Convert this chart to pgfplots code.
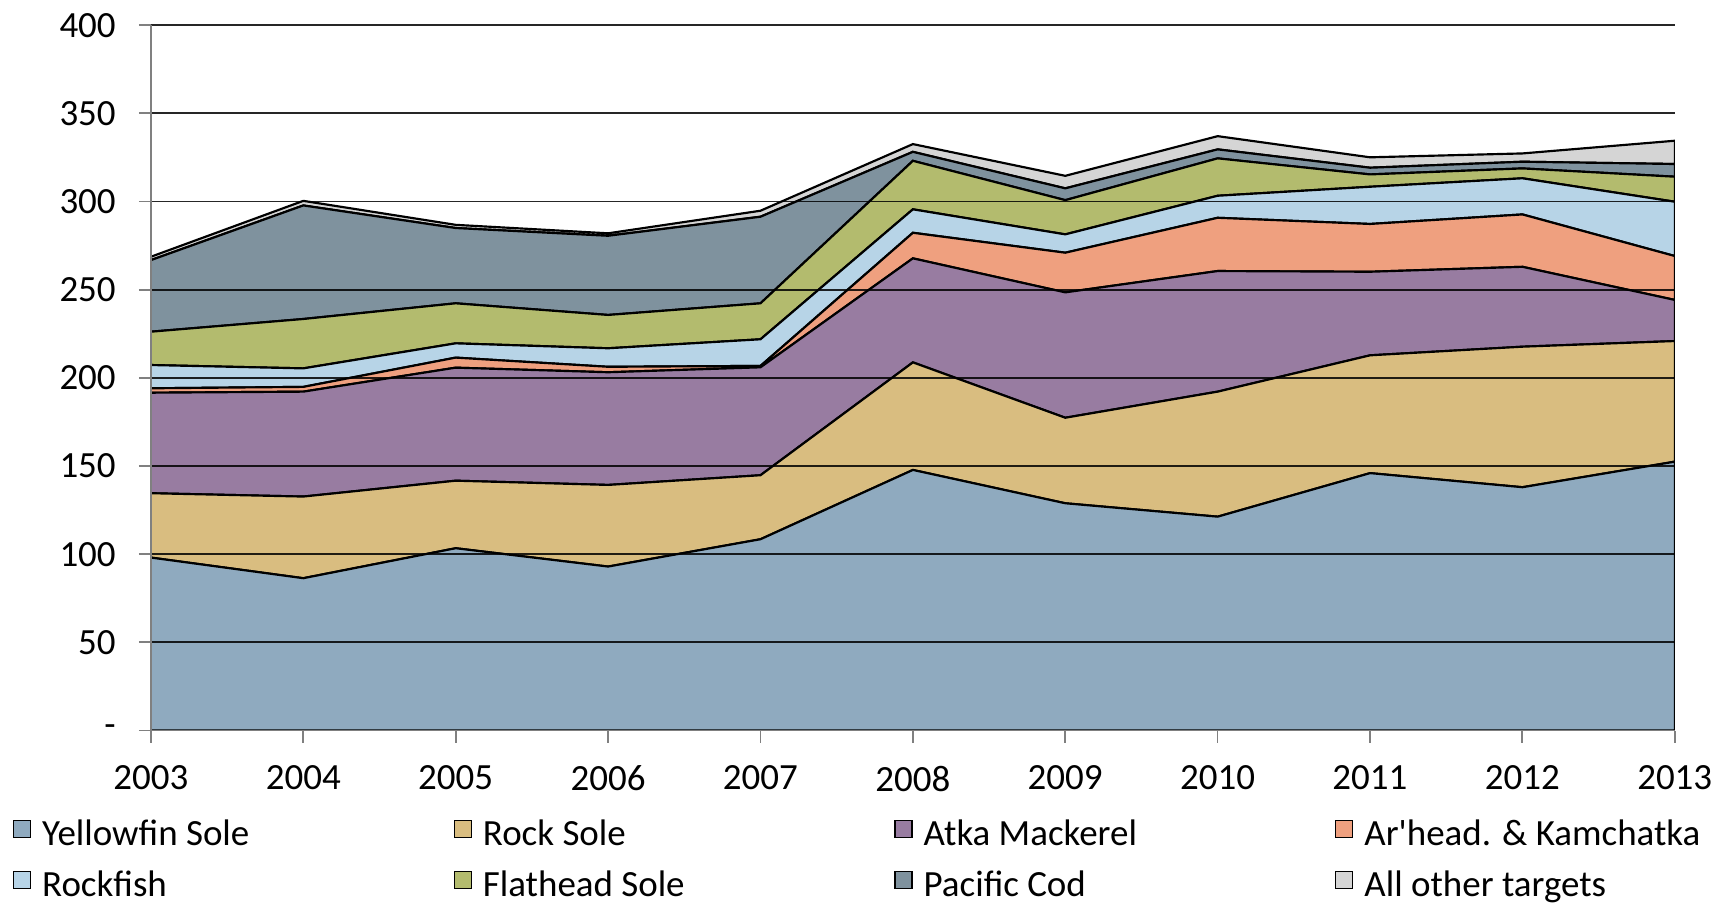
\documentclass[border=0pt]{standalone}
\usepackage{fontspec}
\setmainfont{Carlito}
\usepackage{pgfplots}
\usepackage{pgfplotstable}
\pgfplotsset{compat=1.18}

\definecolor{yfs}{HTML}{8FAABF}
\definecolor{rks}{HTML}{D9BD80}
\definecolor{atk}{HTML}{987CA1}
\definecolor{arh}{HTML}{EFA07F}
\definecolor{rkf}{HTML}{B7D4E7}
\definecolor{fhs}{HTML}{B3BB6E}
\definecolor{pcd}{HTML}{7F929E}
\definecolor{oth}{HTML}{D5D5D5}

% catch by target (stacked)
\pgfplotstableread{
year  Y      R     A     Ar    Rf    F     C     O
2003  98.1   36.5  57.0  2.5   13.2  18.9  40.6  1.9
2004  86.4   46.3  59.5  2.7   10.5  28.0  64.4  2.6
2005  103.4  38.3  64.1  5.7   8.1   22.7  42.7  1.8
2006  93.0   46.3  63.9  3.1   10.5  18.9  44.9  1.4
2007  108.5  36.3  61.2  0.8   15.1  20.4  49.1  3.4
2008  147.8  61.0  59.0  14.5  13.3  27.5  5.1   4.4
2009  128.9  48.5  71.1  22.5  10.4  19.4  6.7   7.1
2010  121.3  70.9  68.4  30.2  12.5  21.2  5.1   7.5
2011  146.0  66.8  47.4  27.1  21.1  7.0   3.8   5.9
2012  138.0  79.7  45.3  29.7  20.5  5.6   3.8   4.7
2013  152.5  68.4  23.3  24.9  30.8  14.2  7.2   13.2
}\catch

\newcommand{\lbl}[1]{\makebox[130pt][l]{\strut #1}}

\begin{document}
\begin{tikzpicture}
\useasboundingbox (-49pt,-55.9pt) rectangle (511.4pt,237.2pt);
\begin{axis}[
    scale only axis,
    width=494.8pt, height=229pt,
    at={(0,0)}, anchor=south west,
    xmin=2003, xmax=2013, ymin=0, ymax=400,
    stack plots=y,
    axis on top,
    axis x line*=bottom, axis y line*=left,
    axis line style={draw=gray, line width=0.6pt},
    xtick={2003,...,2013},
    ytick={0,50,...,400},
    yticklabels={-,50,100,150,200,250,300,350,400},
    ymajorgrids,
    major grid style={black, line width=0.6pt, opacity=0.85},
    tick align=outside,
    major tick length=3.9pt,
    tick style={gray, line width=0.6pt},
    tick label style={font=\fontsize{12}{14.4}\selectfont},
    x tick label style={/pgf/number format/1000 sep={}, yshift=-4pt},
    y tick label style={xshift=-4pt},
    /pgf/number format/assume math mode=true,
    legend columns=4,
    legend cell align=left,
    legend style={draw=none, fill=none, inner sep=0pt, outer sep=0pt,
        column sep=3.6pt, row sep=4.9pt,
        at={([xshift=-44.8pt,yshift=-27.2pt]axis description cs:0,0)},
        anchor=north west,
        font=\fontsize{12}{14.4}\selectfont,
        nodes={inner sep=0pt}},
    legend image code/.code={\draw[#1, draw=black, line width=0.4pt] (0pt,-1.75pt) rectangle (5.5pt,3.75pt);},
    every axis plot/.append style={draw=black, line width=0.7pt},
]
\addplot[fill=yfs] table[x=year,y=Y]{\catch} \closedcycle;
\addlegendentry{\lbl{Yellowfin Sole}}
\addplot[fill=rks] table[x=year,y=R]{\catch} \closedcycle;
\addlegendentry{\lbl{Rock Sole}}
\addplot[fill=atk] table[x=year,y=A]{\catch} \closedcycle;
\addlegendentry{\lbl{Atka Mackerel}}
\addplot[fill=arh] table[x=year,y=Ar]{\catch} \closedcycle;
\addlegendentry{\lbl{Ar\textquotesingle head. \& Kamchatka}}
\addplot[fill=rkf] table[x=year,y=Rf]{\catch} \closedcycle;
\addlegendentry{\lbl{Rockfish}}
\addplot[fill=fhs] table[x=year,y=F]{\catch} \closedcycle;
\addlegendentry{\lbl{Flathead Sole}}
\addplot[fill=pcd] table[x=year,y=C]{\catch} \closedcycle;
\addlegendentry{\lbl{Pacific Cod}}
\addplot[fill=oth] table[x=year,y=O]{\catch} \closedcycle;
\addlegendentry{\lbl{All other targets}}
\end{axis}
\end{tikzpicture}
\end{document}
